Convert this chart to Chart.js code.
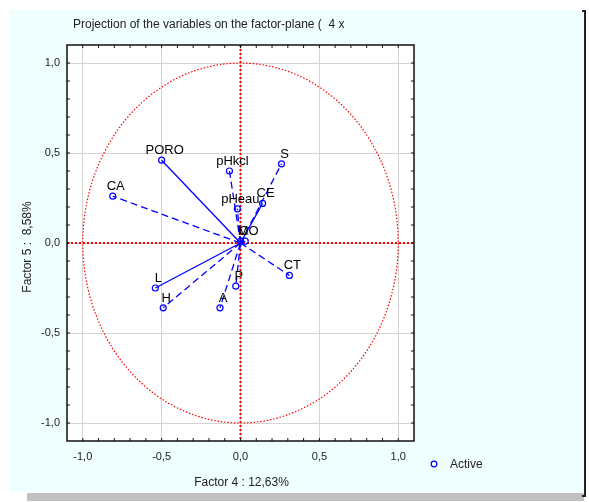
<!DOCTYPE html>
<html>
<head>
<meta charset="utf-8">
<script src="https://cdn.jsdelivr.net/npm/chart.js@4/dist/chart.umd.min.js"></script>
<style>
html,body{margin:0;padding:0;background:#ffffff;}
#wrap{width:589px;height:502px;}
</style>
</head>
<body>
<div id="wrap"><canvas id="c" width="589" height="502"></canvas></div>
<script>
// ---- data ----
const varNames = ['PORO','CA','pHkcl','S','CE','pHeau','C','MO','CT','P','A','L','H'];
const factor4  = [-0.50,-0.81,-0.07,0.26,0.14,-0.02,0.00,0.03,0.31,-0.03,-0.13,-0.54,-0.49];
const factor5  = [ 0.46, 0.26, 0.40,0.44,0.22, 0.19,0.01,0.01,-0.18,-0.24,-0.36,-0.25,-0.36];
const tickValues = [-1.0,-0.5,0.0,0.5,1.0];
const tickLabels = ['-1,0','-0,5','0,0','0,5','1,0'];
const solidVars = ['PORO','CE','L'];

const titleText = 'Projection of the variables on the factor-plane (  4 x';
const xTitle = 'Factor 4 : 12,63%';
const yTitle = 'Factor 5 :  8,58%';
const legendText = 'Active';

const FONT = '"Liberation Sans", Arial, sans-serif';
const BLUE = '#0000ff';

const datasets = varNames.map((n,i)=>({
  label:n,
  data:[{x:0,y:0},{x:factor4[i],y:factor5[i]}],
  showLine:true,
  borderColor:BLUE,
  borderWidth:1.3,
  borderDash: solidVars.includes(n)?[]:[7,4],
  pointRadius:[0,3],
  pointBorderWidth:1.2,
  pointBorderColor:BLUE,
  pointBackgroundColor:'rgba(0,0,0,0)',
  pointStyle:'circle'
}));

const framePlugin = {
  id:'frame',
  beforeDraw(chart){
    const ctx = chart.ctx, a = chart.chartArea;
    ctx.save();
    ctx.fillStyle='#ffffff'; ctx.fillRect(0,0,589,502);
    ctx.fillStyle='#effefe'; ctx.fillRect(10,10,574,482);
    ctx.fillStyle='#c0c0c0'; ctx.fillRect(27,493,557,8);
    ctx.strokeStyle='#222'; ctx.lineWidth=2;
    ctx.beginPath(); ctx.moveTo(582,11); ctx.lineTo(585,11); ctx.lineTo(585,496); ctx.lineTo(582,496); ctx.stroke();
    ctx.fillStyle='#ffffff'; ctx.fillRect(a.left,a.top,a.right-a.left,a.bottom-a.top);
    // title
    ctx.fillStyle='#222'; ctx.font='12px '+FONT; ctx.textAlign='left'; ctx.textBaseline='middle';
    ctx.fillText(titleText,73,25);
    ctx.restore();
  },
  beforeDatasetsDraw(chart){
    const ctx = chart.ctx, a = chart.chartArea, xs = chart.scales.x, ys = chart.scales.y;
    const x0 = xs.getPixelForValue(0), y0 = ys.getPixelForValue(0);
    ctx.save();
    ctx.beginPath(); ctx.rect(a.left,a.top,a.right-a.left,a.bottom-a.top); ctx.clip();
    // unit circle
    const rx = xs.getPixelForValue(1)-x0, ry = y0-ys.getPixelForValue(1);
    ctx.strokeStyle='#ff0000'; ctx.lineWidth=1.2; ctx.setLineDash([1.5,1.8]);
    ctx.beginPath(); ctx.ellipse(x0,y0,rx,ry,0,0,Math.PI*2); ctx.stroke();
    // axes through origin
    ctx.lineWidth=2; ctx.setLineDash([2,2]);
    ctx.beginPath(); ctx.moveTo(x0,a.top); ctx.lineTo(x0,a.bottom); ctx.stroke();
    ctx.beginPath(); ctx.moveTo(a.left,y0); ctx.lineTo(a.right,y0); ctx.stroke();
    ctx.restore();
  },
  afterDatasetsDraw(chart){
    const ctx = chart.ctx, a = chart.chartArea, xs = chart.scales.x, ys = chart.scales.y;
    ctx.save();
    // point labels
    ctx.fillStyle='#000'; ctx.font='13px '+FONT; ctx.textAlign='center'; ctx.textBaseline='alphabetic';
    chart.data.datasets.forEach((ds,i)=>{
      const p = chart.getDatasetMeta(i).data[1];
      ctx.fillText(ds.label,p.x+3,p.y-6);
    });
    // frame border
    ctx.strokeStyle='#111'; ctx.lineWidth=1.5; ctx.setLineDash([]);
    ctx.strokeRect(a.left,a.top,a.right-a.left,a.bottom-a.top);
    // minor ticks every 0.1 (inward)
    ctx.lineWidth=1;
    ctx.beginPath();
    for(let k=-10;k<=10;k++){
      const v=k/10;
      const px = xs.getPixelForValue(v), py = ys.getPixelForValue(v);
      ctx.moveTo(px,a.top); ctx.lineTo(px,a.top+3);
      ctx.moveTo(px,a.bottom); ctx.lineTo(px,a.bottom-3);
      ctx.moveTo(a.left,py); ctx.lineTo(a.left+3,py);
      ctx.moveTo(a.right,py); ctx.lineTo(a.right-3,py);
    }
    ctx.stroke();
    // axis titles
    ctx.fillStyle='#222'; ctx.font='12px '+FONT; ctx.textAlign='center'; ctx.textBaseline='middle';
    ctx.fillText(xTitle,(a.left+a.right)/2+1,483);
    ctx.save(); ctx.translate(28,(a.top+a.bottom)/2+4); ctx.rotate(-Math.PI/2);
    ctx.fillText(yTitle,0,0); ctx.restore();
    // legend
    ctx.strokeStyle=BLUE; ctx.lineWidth=1.2;
    ctx.beginPath(); ctx.arc(434,464,2.8,0,Math.PI*2); ctx.stroke();
    ctx.fillStyle='#222'; ctx.textAlign='left';
    ctx.fillText(legendText,450,465);
    ctx.restore();
  }
};

const fixTicks = s => { s.ticks = tickValues.map(v=>({value:v})); };

new Chart(document.getElementById('c'),{
  type:'scatter',
  data:{datasets},
  options:{
    responsive:false,
    animation:false,
    devicePixelRatio:1,
    layout:{padding:{left:0,top:45,right:175,bottom:0}},
    plugins:{legend:{display:false},tooltip:{enabled:false},title:{display:false}},
    scales:{
      x:{
        type:'linear', min:-1.1, max:1.1,
        afterBuildTicks:fixTicks,
        afterFit:s=>{s.height=61;},
        grid:{color:'#d4d4d4',lineWidth:1,drawTicks:false},
        border:{display:false},
        ticks:{padding:9,color:'#222',font:{family:FONT,size:11},
          callback:(v)=>tickLabels[tickValues.findIndex(t=>Math.abs(t-v)<1e-9)] ?? ''}
      },
      y:{
        type:'linear', min:-1.1, max:1.1,
        afterBuildTicks:fixTicks,
        afterFit:s=>{s.width=67;},
        grid:{color:'#d4d4d4',lineWidth:1,drawTicks:false},
        border:{display:false},
        ticks:{padding:7,color:'#222',font:{family:FONT,size:11},
          callback:(v)=>tickLabels[tickValues.findIndex(t=>Math.abs(t-v)<1e-9)] ?? ''}
      }
    }
  },
  plugins:[framePlugin]
});
</script>
</body>
</html>
